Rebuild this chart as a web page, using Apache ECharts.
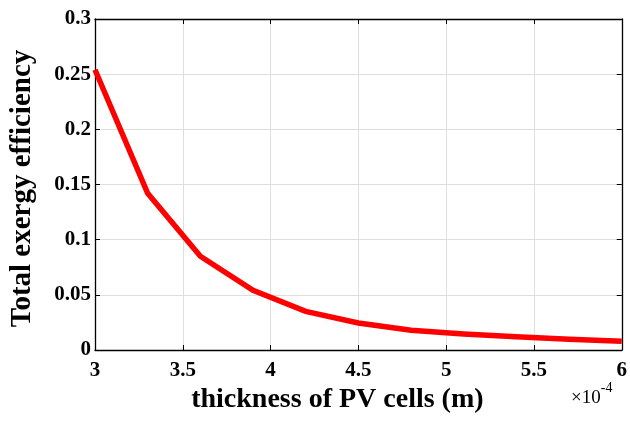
<!DOCTYPE html>
<html>
<head>
<meta charset="utf-8">
<script src="https://cdn.jsdelivr.net/npm/echarts@6/dist/echarts.min.js"></script>
<style>html,body{margin:0;padding:0;background:#fff;}#c{width:630px;height:421px;}</style>
</head>
<body>
<div id="c"></div>
<script>
// thickness in units of 1e-4 m
var thickness = [3.0, 3.3, 3.6, 3.9, 4.2, 4.5, 4.8, 5.1, 5.4, 5.7, 6.0];
var efficiency = [0.254, 0.142, 0.085, 0.054, 0.035, 0.0245, 0.018, 0.0145, 0.012, 0.0098, 0.008];
var xTitle = 'thickness of PV cells (m)';
var yTitle = 'Total exergy efficiency';

var font = '"Liberation Serif", "Times New Roman", serif';
var chart = echarts.init(document.getElementById('c'), null, {renderer: 'canvas'});
var pts = thickness.map(function (x, i) { return [x, efficiency[i]]; });
var gridLine = {show: true, lineStyle: {color: '#dedede', width: 1}};
var tickIn = {show: true, inside: true, length: 5, lineStyle: {color: '#000', width: 1}};
chart.setOption({
  animation: false,
  backgroundColor: '#fff',
  grid: {left: 93, right: 3, top: 19, bottom: 71, containLabel: false},
  xAxis: [{
    type: 'value', min: 3, max: 6, interval: 0.5, position: 'bottom',
    axisLine: {show: true, onZero: false, lineStyle: {color: '#000', width: 1.3}},
    axisTick: tickIn,
    splitLine: gridLine,
    axisLabel: {color: '#000', fontFamily: font, fontWeight: 'bold', fontSize: 21, margin: 10},
    name: xTitle, nameLocation: 'middle', nameGap: 30,
    nameTextStyle: {color: '#000', fontFamily: font, fontWeight: 'bold', fontSize: 28, padding: [0, 42, 0, 0]}
  }, {
    type: 'value', min: 3, max: 6, interval: 0.5, position: 'top',
    axisLine: {show: true, onZero: false, lineStyle: {color: '#000', width: 1.3}},
    axisTick: tickIn, axisLabel: {show: false}, splitLine: {show: false}
  }],
  yAxis: [{
    type: 'value', min: 0, max: 0.3, interval: 0.05, position: 'left',
    axisLine: {show: true, onZero: false, lineStyle: {color: '#000', width: 1.3}},
    axisTick: tickIn,
    splitLine: gridLine,
    axisLabel: {color: '#000', fontFamily: font, fontWeight: 'bold', fontSize: 21, margin: 4},
    name: yTitle, nameLocation: 'middle', nameGap: 58, nameRotate: 90,
    nameTextStyle: {color: '#000', fontFamily: font, fontWeight: 'bold', fontSize: 29, padding: [0, 8, 0, 0]}
  }, {
    type: 'value', min: 0, max: 0.3, interval: 0.05, position: 'right',
    axisLine: {show: true, onZero: false, lineStyle: {color: '#000', width: 1.3}},
    axisTick: tickIn, axisLabel: {show: false}, splitLine: {show: false}
  }],
  series: [{
    type: 'line', xAxisIndex: 0, yAxisIndex: 0, data: pts,
    showSymbol: false, symbol: 'none',
    lineStyle: {color: '#ff0000', width: 5.5, join: 'miter'},
    z: 5
  }],
  graphic: [{
    type: 'text', left: 571, top: 381,
    style: {
      text: '{a|×10}{b|-4}',
      rich: {
        a: {fontFamily: font, fontSize: 19, fill: '#000', padding: [8, 0, 0, 0]},
        b: {fontFamily: font, fontSize: 14, fill: '#000', verticalAlign: 'top', padding: [0, 0, 8, 0]}
      }
    }
  }]
});
</script>
</body>
</html>
